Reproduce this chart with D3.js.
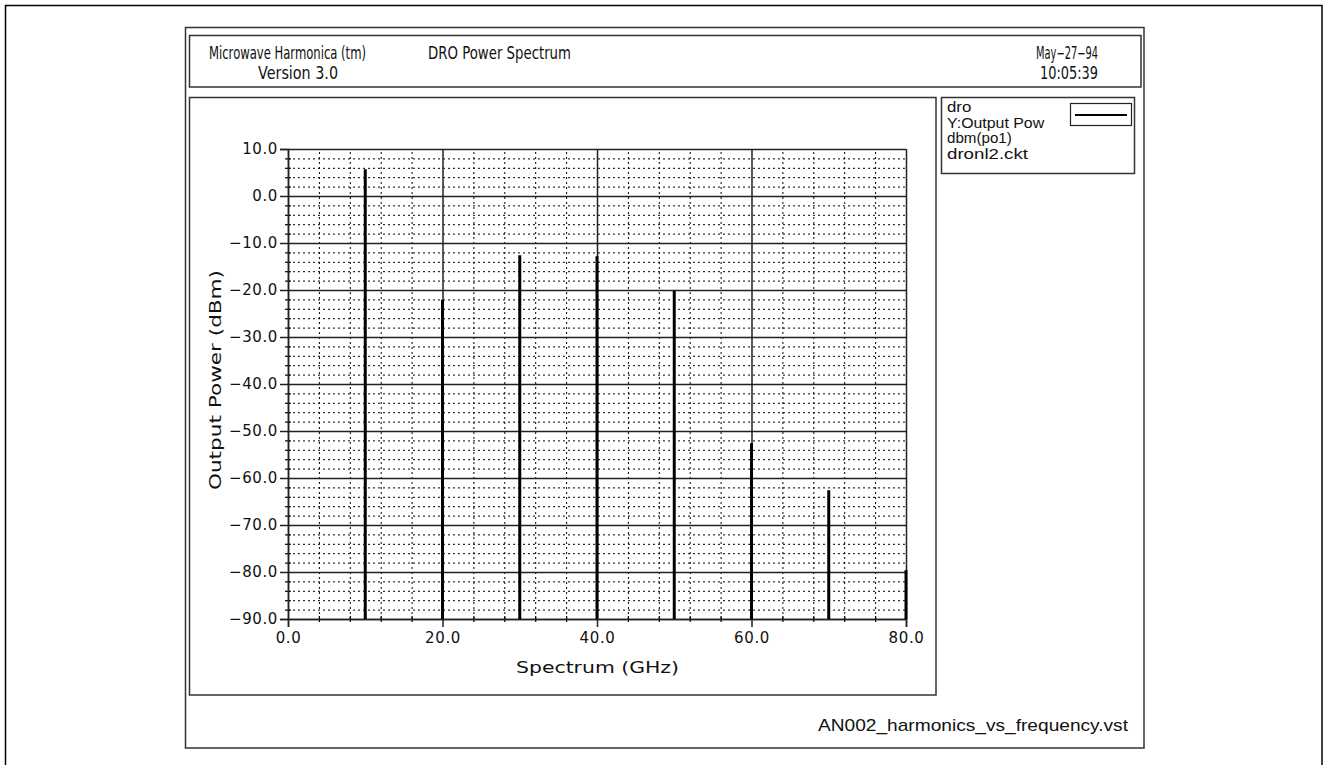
<!DOCTYPE html>
<html>
<head>
<meta charset="utf-8">
<script src="https://cdn.jsdelivr.net/npm/d3@7"></script>
<style>
  body { margin: 0; background: #fff; }
  svg { display: block; }
  .stroke-font { font-family: "DejaVu Sans", sans-serif; fill: #111; }
  .plain-font { font-family: "Liberation Sans", Arial, sans-serif; fill: #111; }
</style>
</head>
<body>
<div id="chart"></div>
<script>
// harmonic frequencies (GHz) and output power (dBm)
const freqs = [10, 20, 30, 40, 50, 60, 70, 80];
const power = [5.7, -22.1, -12.6, -12.8, -20.2, -52.6, -62.6, -79.6];

const xMajor = [0, 20, 40, 60, 80];
const xMinor = [4, 8, 12, 16, 24, 28, 32, 36, 44, 48, 52, 56, 64, 68, 72, 76];
const yMajor = [10, 0, -10, -20, -30, -40, -50, -60, -70, -80, -90];
const yMinor = [8, 6, 4, 2, -2, -4, -6, -8, -12, -14, -16, -18, -22, -24, -26, -28,
  -32, -34, -36, -38, -42, -44, -46, -48, -52, -54, -56, -58, -62, -64, -66, -68,
  -72, -74, -76, -78, -82, -84, -86, -88];

const headerLeft = ["Microwave Harmonica (tm)", "Version 3.0"];
const headerMid = "DRO Power Spectrum";
const headerRight = ["May\u221227\u221294", "10:05:39"];
const legendLines = ["dro", "Y:Output Pow", "dbm(po1)", "dronl2.ckt"];
const footer = "AN002_harmonics_vs_frequency.vst";

const W = 1329, H = 765;
const svg = d3.select("#chart").append("svg").attr("width", W).attr("height", H);

// frames
const frame = (x, y, w, h, sw, col) => svg.append("rect")
  .attr("x", x).attr("y", y).attr("width", w).attr("height", h)
  .attr("fill", "none").attr("stroke", col).attr("stroke-width", sw);

frame(5.5, 5.5, 1316.5, 780, 1.5, "#000");
frame(185.5, 27.5, 958.5, 720.5, 1.5, "#333");
frame(189.5, 35.5, 951.5, 51.5, 1.5, "#333");
frame(189.5, 97.5, 746.5, 597.5, 1.5, "#333");
frame(941.5, 97.5, 193, 76, 1.5, "#333");

// header text, stretched to the widths of the plotter font
const hdr = (txt, xp, yp, len) => svg.append("text").attr("class", "stroke-font")
  .attr("x", xp).attr("y", yp).attr("font-size", 17)
  .attr("textLength", len).attr("lengthAdjust", "spacingAndGlyphs").text(txt);
hdr(headerLeft[0], 209, 59, 157);
hdr(headerLeft[1], 258, 79, 80);
hdr(headerMid, 428, 59, 143);
hdr(headerRight[0], 1036, 59, 62);
hdr(headerRight[1], 1040, 79, 58);

// legend
svg.append("g").selectAll("text").data(legendLines).enter().append("text")
  .attr("class", "plain-font").attr("font-size", 15)
  .attr("x", 947).attr("y", (d, i) => 112 + i * 15.5)
  .attr("textLength", d => d.length * 8.1).attr("lengthAdjust", "spacingAndGlyphs")
  .text(d => d);
svg.append("rect").attr("x", 1070.5).attr("y", 103.5).attr("width", 61).attr("height", 22)
  .attr("fill", "none").attr("stroke", "#222").attr("stroke-width", 1.2);
svg.append("line").attr("x1", 1075).attr("x2", 1127).attr("y1", 115).attr("y2", 115)
  .attr("stroke", "#000").attr("stroke-width", 2);

// footer
svg.append("text").attr("class", "plain-font").attr("x", 1128).attr("y", 731)
  .attr("text-anchor", "end").attr("font-size", 17)
  .attr("textLength", 310).attr("lengthAdjust", "spacingAndGlyphs")
  .text(footer);

// plot
const x = d3.scaleLinear().domain([0, 80]).range([288, 906]);
const y = d3.scaleLinear().domain([-90, 10]).range([619, 149]);
const x0 = x.range()[0], x1 = x.range()[1], y0 = y.range()[0], y1 = y.range()[1];

const g = svg.append("g");

// minor dotted grid
g.append("g").attr("transform", `translate(${x0},0)`)
  .call(d3.axisLeft(y).tickValues(yMinor).tickSize(-(x1 - x0)).tickFormat(""))
  .call(a => a.select(".domain").remove())
  .selectAll("line").attr("stroke", "#000").attr("stroke-dasharray", "2,3");
g.append("g").attr("transform", `translate(0,${y0})`)
  .call(d3.axisBottom(x).tickValues(xMinor).tickSize(-(y0 - y1)).tickFormat(""))
  .call(a => a.select(".domain").remove())
  .selectAll("line").attr("stroke", "#000").attr("stroke-dasharray", "2,3");

// major solid grid
g.append("g").attr("transform", `translate(${x0},0)`)
  .call(d3.axisLeft(y).tickValues(yMajor).tickSize(-(x1 - x0)).tickFormat(""))
  .call(a => a.select(".domain").remove())
  .selectAll("line").attr("stroke", "#222").attr("stroke-width", 1.5);
g.append("g").attr("transform", `translate(0,${y0})`)
  .call(d3.axisBottom(x).tickValues(xMajor).tickSize(-(y0 - y1)).tickFormat(""))
  .call(a => a.select(".domain").remove())
  .selectAll("line").attr("stroke", "#222").attr("stroke-width", 1.5);

// minor ticks crossing the axes
g.append("g").attr("transform", `translate(${x0 + 3},0)`)
  .call(d3.axisLeft(y).tickValues(yMinor).tickSize(6).tickFormat(""))
  .call(a => a.select(".domain").remove())
  .selectAll("line").attr("stroke", "#000").attr("stroke-width", 1.2);
g.append("g").attr("transform", `translate(0,${y0 - 3})`)
  .call(d3.axisBottom(x).tickValues(xMinor).tickSize(6).tickFormat(""))
  .call(a => a.select(".domain").remove())
  .selectAll("line").attr("stroke", "#000").attr("stroke-width", 1.2);

// major axes with labels
const fmt = d3.format(".1f");
const yAxis = g.append("g").attr("transform", `translate(${x0},0)`)
  .call(d3.axisLeft(y).tickValues(yMajor).tickSize(8).tickPadding(2).tickFormat(fmt));
const xAxis = g.append("g").attr("transform", `translate(0,${y0})`)
  .call(d3.axisBottom(x).tickValues(xMajor).tickSize(8).tickPadding(5).tickFormat(fmt));
[yAxis, xAxis].forEach(a => {
  a.selectAll("line, .domain").attr("stroke", "#222").attr("stroke-width", 1.5);
  a.selectAll("text").attr("class", "stroke-font").attr("font-size", 15)
    .attr("letter-spacing", 0.6).attr("fill", "#111");
});

// harmonic lines
g.append("g").selectAll("line").data(freqs).enter().append("line")
  .attr("x1", d => x(d)).attr("x2", d => x(d))
  .attr("y1", (d, i) => y(power[i])).attr("y2", y(-90))
  .attr("stroke", "#000").attr("stroke-width", 3);

// axis titles
svg.append("text").attr("class", "stroke-font").attr("font-size", 16)
  .attr("x", 516).attr("y", 673)
  .attr("textLength", 163).attr("lengthAdjust", "spacingAndGlyphs")
  .text("Spectrum   (GHz)");
svg.append("text").attr("class", "stroke-font").attr("font-size", 16)
  .attr("transform", `translate(221,490) rotate(-90)`)
  .attr("textLength", 220).attr("lengthAdjust", "spacingAndGlyphs")
  .text("Output Power   (dBm)");
</script>
</body>
</html>
